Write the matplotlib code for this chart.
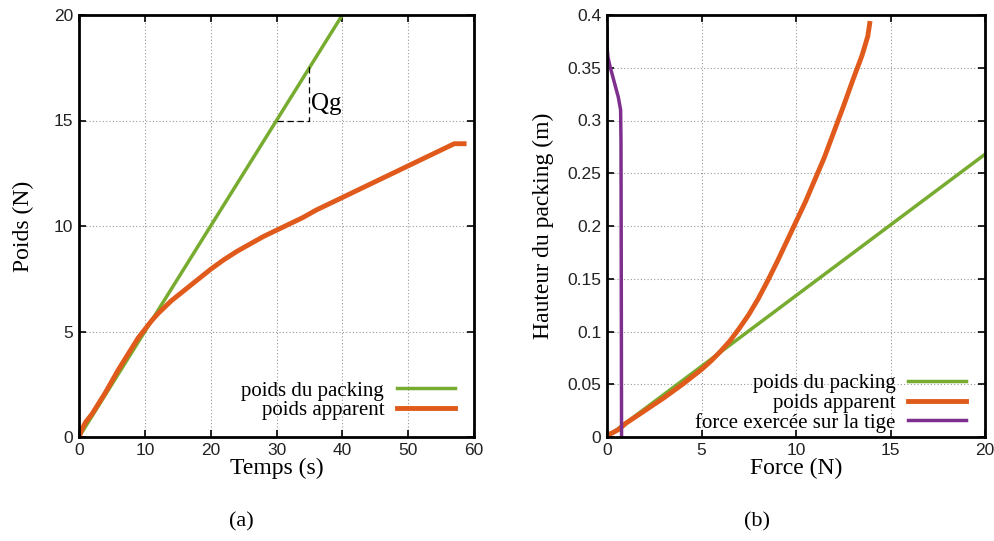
import matplotlib
matplotlib.use("Agg")
import matplotlib.pyplot as plt

# (a) poids en fonction du temps
temps_packing = [0, 40]
poids_packing = [0, 20]

temps_app = [0, 0.5, 1, 2, 3, 4, 5, 6, 7, 8, 9, 10, 11, 12, 13, 14, 15, 17, 19, 20, 22, 24,
             26, 28, 30, 32, 34, 36, 38, 40, 42, 44, 46, 48, 50, 52, 54, 56, 57, 58, 58.5]
poids_app = [0, 0.4, 0.7, 1.1, 1.6, 2.1, 2.65, 3.2, 3.7, 4.2, 4.7, 5.1, 5.5, 5.85, 6.15, 6.45,
             6.7, 7.2, 7.7, 7.95, 8.4, 8.8, 9.15, 9.5, 9.8, 10.1, 10.4, 10.75, 11.05, 11.35,
             11.65, 11.95, 12.25, 12.55, 12.85, 13.15, 13.45, 13.75, 13.9, 13.9, 13.9]

# (b) hauteur en fonction de la force
force_packing = [0, 20]
haut_packing = [0, 0.268]

force_app = [0, 0.3, 0.6, 0.8, 1.0, 1.5, 2, 3, 4, 5, 5.5, 6, 6.5, 7, 7.5, 8, 8.5, 9, 9.5,
             10, 10.5, 11, 11.5, 12, 12.5, 13, 13.5, 13.8, 13.9]
haut_app = [0.002, 0.004, 0.007, 0.01, 0.013, 0.019, 0.025, 0.037, 0.05, 0.064, 0.072,
            0.081, 0.091, 0.103, 0.116, 0.131, 0.148, 0.166, 0.185, 0.204, 0.223, 0.244,
            0.265, 0.289, 0.313, 0.338, 0.362, 0.38, 0.392]

force_tige = [0.77, 0.76, 0.75, 0.74, 0.72, 0.6, 0.45, 0.3, 0.15, 0.05, 0.0, 0.0]
haut_tige = [0.0, 0.1, 0.2, 0.28, 0.31, 0.322, 0.332, 0.342, 0.352, 0.36, 0.37, 0.388]

green = "#77ac30"
orange = "#e05a1c"
purple = "#7e2f8e"

serif = ["Liberation Serif", "DejaVu Serif"]
sans = ["Liberation Sans", "DejaVu Sans"]

fig = plt.figure(figsize=(9.95, 5.41), dpi=100)
ax1 = fig.add_axes([79 / 995, 1 - 437 / 541, 395 / 995, 422 / 541])
ax2 = fig.add_axes([607 / 995, 1 - 437 / 541, 378 / 995, 422 / 541])

ax1.plot(temps_packing, poids_packing, color=green, lw=2.5, label="poids du packing")
ax1.plot(temps_app, poids_app, color=orange, lw=3.5, label="poids apparent")
ax1.plot([30, 35, 35], [15, 15, 17.6], color="black", lw=0.9, ls=(0, (5, 3)))
ax1.text(35.2, 15.8, "Qg", fontsize=18, family=serif, va="center")
ax1.set_xlim(0, 60)
ax1.set_ylim(0, 20)
ax1.set_xticks(range(0, 61, 10))
ax1.set_yticks(range(0, 21, 5))
ax1.set_xlabel("Temps (s)", fontsize=17, family=serif, labelpad=0)
ax1.set_ylabel("Poids (N)", fontsize=17, family=serif, labelpad=14)

ax2.plot(force_packing, haut_packing, color=green, lw=2.5, label="poids du packing")
ax2.plot(force_app, haut_app, color=orange, lw=3.5, label="poids apparent")
ax2.plot(force_tige, haut_tige, color=purple, lw=2.5, label="force exercée sur la tige")
ax2.set_xlim(0, 20)
ax2.set_ylim(0, 0.4)
ax2.set_xticks(range(0, 21, 5))
ax2.set_yticks([0, 0.05, 0.1, 0.15, 0.2, 0.25, 0.3, 0.35, 0.4])
ax2.set_yticklabels(["0", "0.05", "0.1", "0.15", "0.2", "0.25", "0.3", "0.35", "0.4"])
ax2.set_xlabel("Force (N)", fontsize=17, family=serif, labelpad=0)
ax2.set_ylabel("Hauteur du packing (m)", fontsize=17, family=serif, labelpad=10)

anchors = {ax1: (0.952, 0.04), ax2: (0.95, 0.01)}
for ax in (ax1, ax2):
    ax.grid(True, color="#999999", ls=(0, (1, 2)), lw=0.8)
    ax.tick_params(direction="in", top=True, right=True, length=5, width=1.2,
                   labelsize=12.5, pad=4)
    for lab in ax.get_xticklabels() + ax.get_yticklabels():
        lab.set_family(sans)
        lab.set_color("#222222")
    for s in ax.spines.values():
        s.set_linewidth(2)
    leg = ax.legend(loc="lower right", bbox_to_anchor=anchors[ax], frameon=False,
                    markerfirst=False, prop={"family": serif, "size": 15},
                    handlelength=2.8, labelspacing=0.0, borderaxespad=0.0,
                    handletextpad=0.6, borderpad=0.0)
    for t in leg.get_texts():
        t.set_ha("right")

fig.text(241 / 995, 0.035, "(a)", fontsize=16, ha="center", va="center", family=serif)
fig.text(757 / 995, 0.035, "(b)", fontsize=16, ha="center", va="center", family=serif)

fig.savefig("out.png", dpi=100)
